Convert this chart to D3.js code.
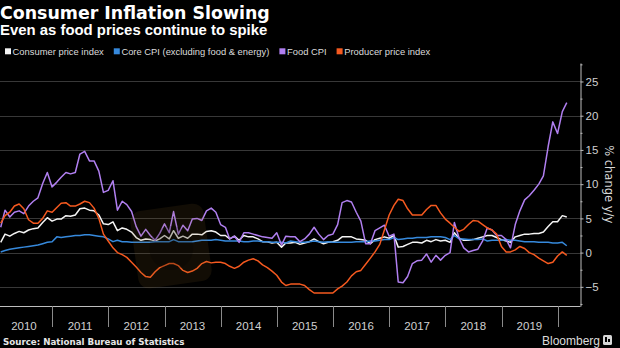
<!DOCTYPE html>
<html>
<head>
<meta charset="utf-8">
<script src="https://cdn.jsdelivr.net/npm/d3@7"></script>
<style>
  html, body { margin: 0; padding: 0; background: #000; }
  svg { display: block; }
</style>
</head>
<body>
<svg id="chart" width="620" height="348"></svg>
<script>
// Monthly year-over-year % change, January 2010 through February 2020
const years = [2010, 2011, 2012, 2013, 2014, 2015, 2016, 2017, 2018, 2019];

const cpi = [
  1.5, 2.7, 2.4, 2.8, 3.1, 2.9, 3.3, 3.5, 3.6, 4.4, 5.1, 4.6,
  4.9, 4.9, 5.4, 5.3, 5.5, 6.4, 6.5, 6.2, 6.1, 5.5, 4.2, 4.1,
  4.5, 3.2, 3.6, 3.4, 3.0, 2.2, 1.8, 2.0, 1.9, 1.7, 2.0, 2.5,
  2.0, 3.2, 2.1, 2.4, 2.1, 2.7, 2.7, 2.6, 3.1, 3.2, 3.0, 2.5,
  2.5, 2.0, 2.4, 1.8, 2.5, 2.3, 2.3, 2.0, 1.6, 1.6, 1.4, 1.5,
  0.8, 1.4, 1.4, 1.5, 1.2, 1.4, 1.6, 2.0, 1.6, 1.3, 1.5, 1.6,
  1.8, 2.3, 2.3, 2.3, 2.0, 1.9, 1.8, 1.3, 1.9, 2.1, 2.3, 2.1,
  2.5, 0.8, 0.9, 1.2, 1.5, 1.5, 1.4, 1.8, 1.6, 1.9, 1.7, 1.8,
  1.5, 2.9, 2.1, 1.8, 1.8, 1.9, 2.1, 2.3, 2.5, 2.5, 2.2, 1.9,
  1.7, 1.5, 2.3, 2.5, 2.7, 2.7, 2.8, 2.8, 3.0, 3.8, 4.5, 4.5,
  5.4, 5.2
];

const coreCpi = [
  0.1, 0.3, 0.5, 0.6, 0.7, 0.8, 0.9, 1.0, 1.1, 1.3, 1.5, 1.6,
  2.3, 2.2, 2.3, 2.4, 2.5, 2.5, 2.6, 2.6, 2.5, 2.4, 2.3, 2.0,
  1.6, 1.8, 1.6, 1.6, 1.5, 1.5, 1.5, 1.5, 1.5, 1.6, 1.6, 1.6,
  1.6, 1.9, 1.6, 1.6, 1.6, 1.6, 1.7, 1.8, 1.8, 1.8, 1.9, 1.8,
  1.7, 1.7, 1.7, 1.7, 1.6, 1.6, 1.7, 1.7, 1.6, 1.6, 1.5, 1.5,
  1.5, 1.4, 1.7, 1.6, 1.5, 1.5, 1.6, 1.7, 1.6, 1.5, 1.6, 1.5,
  1.5, 1.5, 1.5, 1.5, 1.6, 1.6, 1.6, 1.7, 1.7, 1.8, 1.9, 1.9,
  2.2, 1.9, 2.0, 2.1, 2.1, 2.2, 2.2, 2.2, 2.3, 2.3, 2.3, 2.2,
  1.9, 2.5, 2.0, 2.0, 1.9, 1.9, 1.9, 2.0, 1.7, 1.8, 1.8, 1.8,
  1.9, 1.8, 1.8, 1.7, 1.6, 1.6, 1.6, 1.5, 1.5, 1.5, 1.4, 1.4,
  1.5, 1.0
];

const foodCpi = [
  3.7, 6.2, 5.2, 5.9, 6.1, 5.7, 6.8, 7.5, 8.0, 10.1, 11.7, 9.6,
  10.3, 11.0, 11.7, 11.5, 11.7, 14.4, 14.8, 13.4, 13.4, 11.9, 8.8, 9.1,
  10.5, 6.2, 7.5, 7.0, 6.0, 3.8, 2.4, 3.4, 2.5, 1.8, 2.8, 4.2,
  2.9, 6.0, 2.7, 4.0, 3.2, 4.9, 5.0, 4.7, 6.1, 6.5, 5.9, 4.1,
  3.7, 2.0, 2.4, 1.5, 2.9, 2.9, 2.7, 2.5, 2.3, 2.2, 2.1, 2.9,
  1.1, 2.4, 2.3, 2.3, 1.6, 2.0, 2.7, 3.7, 2.7, 1.9, 2.5, 2.7,
  4.1, 7.3, 7.6, 7.4, 5.9, 4.6, 1.3, 1.3, 3.2, 3.6, 4.0, 2.4,
  2.7, -4.3, -4.4, -3.5, -1.6, -1.2, -1.1, -0.2, -1.4, -0.4, -1.1, -0.4,
  0.0, 4.4, 2.1, 0.7, 0.1, 0.3, 0.5, 1.7, 3.6, 3.3, 2.5, 2.5,
  1.9, 0.7, 4.1, 6.1, 7.7, 8.3, 9.1, 10.0, 11.2, 15.5, 19.1, 17.4,
  20.6, 21.9
];

const ppi = [
  4.3, 5.4, 5.9, 6.8, 7.1, 6.4, 4.8, 4.3, 4.3, 5.0, 6.1, 5.9,
  6.6, 7.2, 7.3, 6.8, 6.8, 7.1, 7.5, 7.3, 6.5, 5.0, 2.7, 1.7,
  0.7, 0.0, -0.3, -0.7, -1.4, -2.1, -2.9, -3.5, -3.6, -2.8, -2.2, -1.9,
  -1.6, -1.6, -1.9, -2.6, -2.9, -2.7, -2.3, -1.6, -1.3, -1.5, -1.4, -1.4,
  -1.6, -2.0, -2.3, -2.0, -1.4, -1.1, -0.9, -1.2, -1.8, -2.2, -2.7, -3.3,
  -4.3, -4.8, -4.6, -4.6, -4.6, -4.8, -5.4, -5.9, -5.9, -5.9, -5.9, -5.9,
  -5.3, -4.9, -4.3, -3.4, -2.8, -2.6, -1.7, -0.8, 0.1, 1.2, 3.3, 5.5,
  6.9, 7.8, 7.6, 6.4, 5.5, 5.5, 5.5, 6.3, 6.9, 6.9, 5.8, 4.9,
  4.3, 3.7, 3.1, 3.4, 4.1, 4.7, 4.6, 4.1, 3.6, 3.3, 2.7, 0.9,
  0.1, 0.1, 0.4, 0.9, 0.6, 0.0, -0.3, -0.8, -1.2, -1.6, -1.4, -0.5,
  0.1, -0.4
];

const seriesNames = [
  "Consumer price index",
  "Core CPI (excluding food & energy)",
  "Food CPI",
  "Producer price index"
];
const yTicks = [-5, 0, 5, 10, 15, 20, 25];
const yMinorTicks = [-7.5, -2.5, 2.5, 7.5, 12.5, 17.5, 22.5, 27.5];

// ---- styling ----
const colors = ["#f4f4f4", "#3689dc", "#b07ff0", "#f5591f"];
const W = 620, H = 348;
const plot = { left: 0, right: 580.5, top: 63, bottom: 306 };

const svg = d3.select("#chart");
svg.append("rect").attr("width", W).attr("height", H).attr("fill", "#000");

// each value sits at the end of its month
const dates = cpi.map((_, i) => new Date(2010, i + 1, 0));

const x = d3.scaleTime()
  .domain([new Date(2010, 0, 1), new Date(2020, 0, 1)])
  .range([-3.9, 557.7]);
const y = d3.scaleLinear()
  .domain([-7.8, 27.7])
  .range([plot.bottom, plot.top]);

// horizontal grid
svg.append("g")
  .selectAll("line")
  .data(yTicks)
  .join("line")
  .attr("x1", plot.left).attr("x2", plot.right)
  .attr("y1", d => Math.round(y(d)) + 0.5).attr("y2", d => Math.round(y(d)) + 0.5)
  .attr("stroke", "#383838").attr("stroke-width", 1);

// series lines
const seriesData = [cpi, coreCpi, foodCpi, ppi];
const line = d3.line()
  .x((d, i) => x(dates[i]))
  .y(d => y(d));

svg.append("clipPath").attr("id", "plotClip")
  .append("rect")
  .attr("x", plot.left).attr("y", plot.top)
  .attr("width", plot.right - plot.left).attr("height", plot.bottom - plot.top);

const linesG = svg.append("g").attr("clip-path", "url(#plotClip)");
seriesData.forEach((vals, k) => {
  linesG.append("path")
    .datum(vals)
    .attr("d", line)
    .attr("fill", "none")
    .attr("stroke", colors[k])
    .attr("stroke-width", 1.5)
    .attr("stroke-linejoin", "round");
});

// faint badge over the middle-left of the plot
const badge = svg.append("g")
  .attr("transform", "translate(171,246) rotate(-8)");
badge.append("rect")
  .attr("x", -37).attr("y", -39).attr("width", 74).attr("height", 78).attr("rx", 11)
  .attr("fill", "#8a6628").attr("opacity", 0.13);
badge.append("circle")
  .attr("cx", 0).attr("cy", 2).attr("r", 22)
  .attr("fill", "#000").attr("opacity", 0.2);

// right y axis with major and minor ticks
const yAxis = d3.axisRight(y)
  .tickValues(yTicks)
  .tickSize(3)
  .tickSizeOuter(0)
  .tickPadding(2)
  .tickFormat(d3.format("d"));
const yAxisG = svg.append("g")
  .attr("transform", `translate(${plot.right},0)`)
  .call(yAxis);
yAxisG.select(".domain").attr("stroke", "#bdbdbd");
yAxisG.selectAll(".tick line").attr("stroke", "#bdbdbd");
yAxisG.selectAll(".tick text")
  .attr("fill", "#d0d0d0")
  .attr("font-family", "'Liberation Sans', Arial, sans-serif")
  .attr("font-size", 11.5);

const yMinor = d3.axisRight(y).tickValues(yMinorTicks).tickSize(2).tickSizeOuter(0).tickFormat("");
const yMinorG = svg.append("g")
  .attr("transform", `translate(${plot.right},0)`)
  .call(yMinor);
yMinorG.select(".domain").remove();
yMinorG.selectAll(".tick line").attr("stroke", "#bdbdbd");

// y axis title
svg.append("text")
  .attr("transform", `translate(605,${y(10)}) rotate(90)`)
  .attr("text-anchor", "middle")
  .attr("fill", "#d8d8d8")
  .attr("font-family", "'DejaVu Sans', sans-serif")
  .attr("font-size", 11.5)
  .text("% change y/y");

// bottom axis: baseline, year separators and centred year labels
svg.append("line")
  .attr("x1", plot.left).attr("x2", plot.right)
  .attr("y1", plot.bottom + 0.5).attr("y2", plot.bottom + 0.5)
  .attr("stroke", "#bdbdbd");

const yearStarts = years.slice(1).map(yr => new Date(yr, 0, 1)).concat([new Date(2020, 0, 1)]);
svg.append("g")
  .selectAll("line")
  .data(yearStarts)
  .join("line")
  .attr("x1", d => Math.round(x(d)) + 0.5).attr("x2", d => Math.round(x(d)) + 0.5)
  .attr("y1", plot.bottom).attr("y2", plot.bottom + 21)
  .attr("stroke", "#8a8a8a");

svg.append("g")
  .selectAll("text")
  .data(years)
  .join("text")
  .attr("x", d => x(new Date(d, 6, 1)))
  .attr("y", 330)
  .attr("text-anchor", "middle")
  .attr("fill", "#d0d0d0")
  .attr("font-family", "'Liberation Sans', Arial, sans-serif")
  .attr("font-size", 11.5)
  .text(d => d);

// titles
svg.append("text")
  .attr("x", 0).attr("y", 18.5)
  .attr("fill", "#fff")
  .attr("font-family", "'DejaVu Sans', sans-serif")
  .attr("font-weight", "bold")
  .attr("font-size", 17.4)
  .text("Consumer Inflation Slowing");
svg.append("text")
  .attr("x", 0).attr("y", 34.5)
  .attr("fill", "#fff")
  .attr("font-family", "'Liberation Sans', Arial, sans-serif")
  .attr("font-weight", "bold")
  .attr("font-size", 14.9)
  .text("Even as food prices continue to spike");

// legend
const legend = svg.append("g");
let lx = 5;
seriesNames.forEach((name, k) => {
  legend.append("rect")
    .attr("x", lx).attr("y", 48.3).attr("width", 6).attr("height", 6)
    .attr("fill", colors[k]);
  const t = legend.append("text")
    .attr("x", lx + 7.6).attr("y", 54.8)
    .attr("fill", "#dcdcdc")
    .attr("font-family", "'Liberation Sans', Arial, sans-serif")
    .attr("font-size", 9.4)
    .text(name);
  lx += 7.6 + t.node().getComputedTextLength() + 10;
});

// footer
svg.append("text")
  .attr("x", 3).attr("y", 345)
  .attr("fill", "#e6e6e6")
  .attr("font-family", "'DejaVu Sans', sans-serif")
  .attr("font-weight", "bold")
  .attr("font-size", 8.7)
  .text("Source: National Bureau of Statistics");

svg.append("text")
  .attr("x", 600).attr("y", 345)
  .attr("text-anchor", "end")
  .attr("fill", "#dcdcdc")
  .attr("font-family", "'Liberation Sans', Arial, sans-serif")
  .attr("font-size", 12)
  .text("Bloomberg");

const logo = svg.append("g").attr("transform", "translate(603,335)");
logo.append("rect").attr("width", 9).attr("height", 10).attr("rx", 1.5).attr("fill", "#d6d6d6");
logo.append("rect").attr("x", 2).attr("y", 2).attr("width", 2).attr("height", 5).attr("fill", "#000");
logo.append("rect").attr("x", 5).attr("y", 4).attr("width", 2).attr("height", 3).attr("fill", "#000");
</script>
</body>
</html>
